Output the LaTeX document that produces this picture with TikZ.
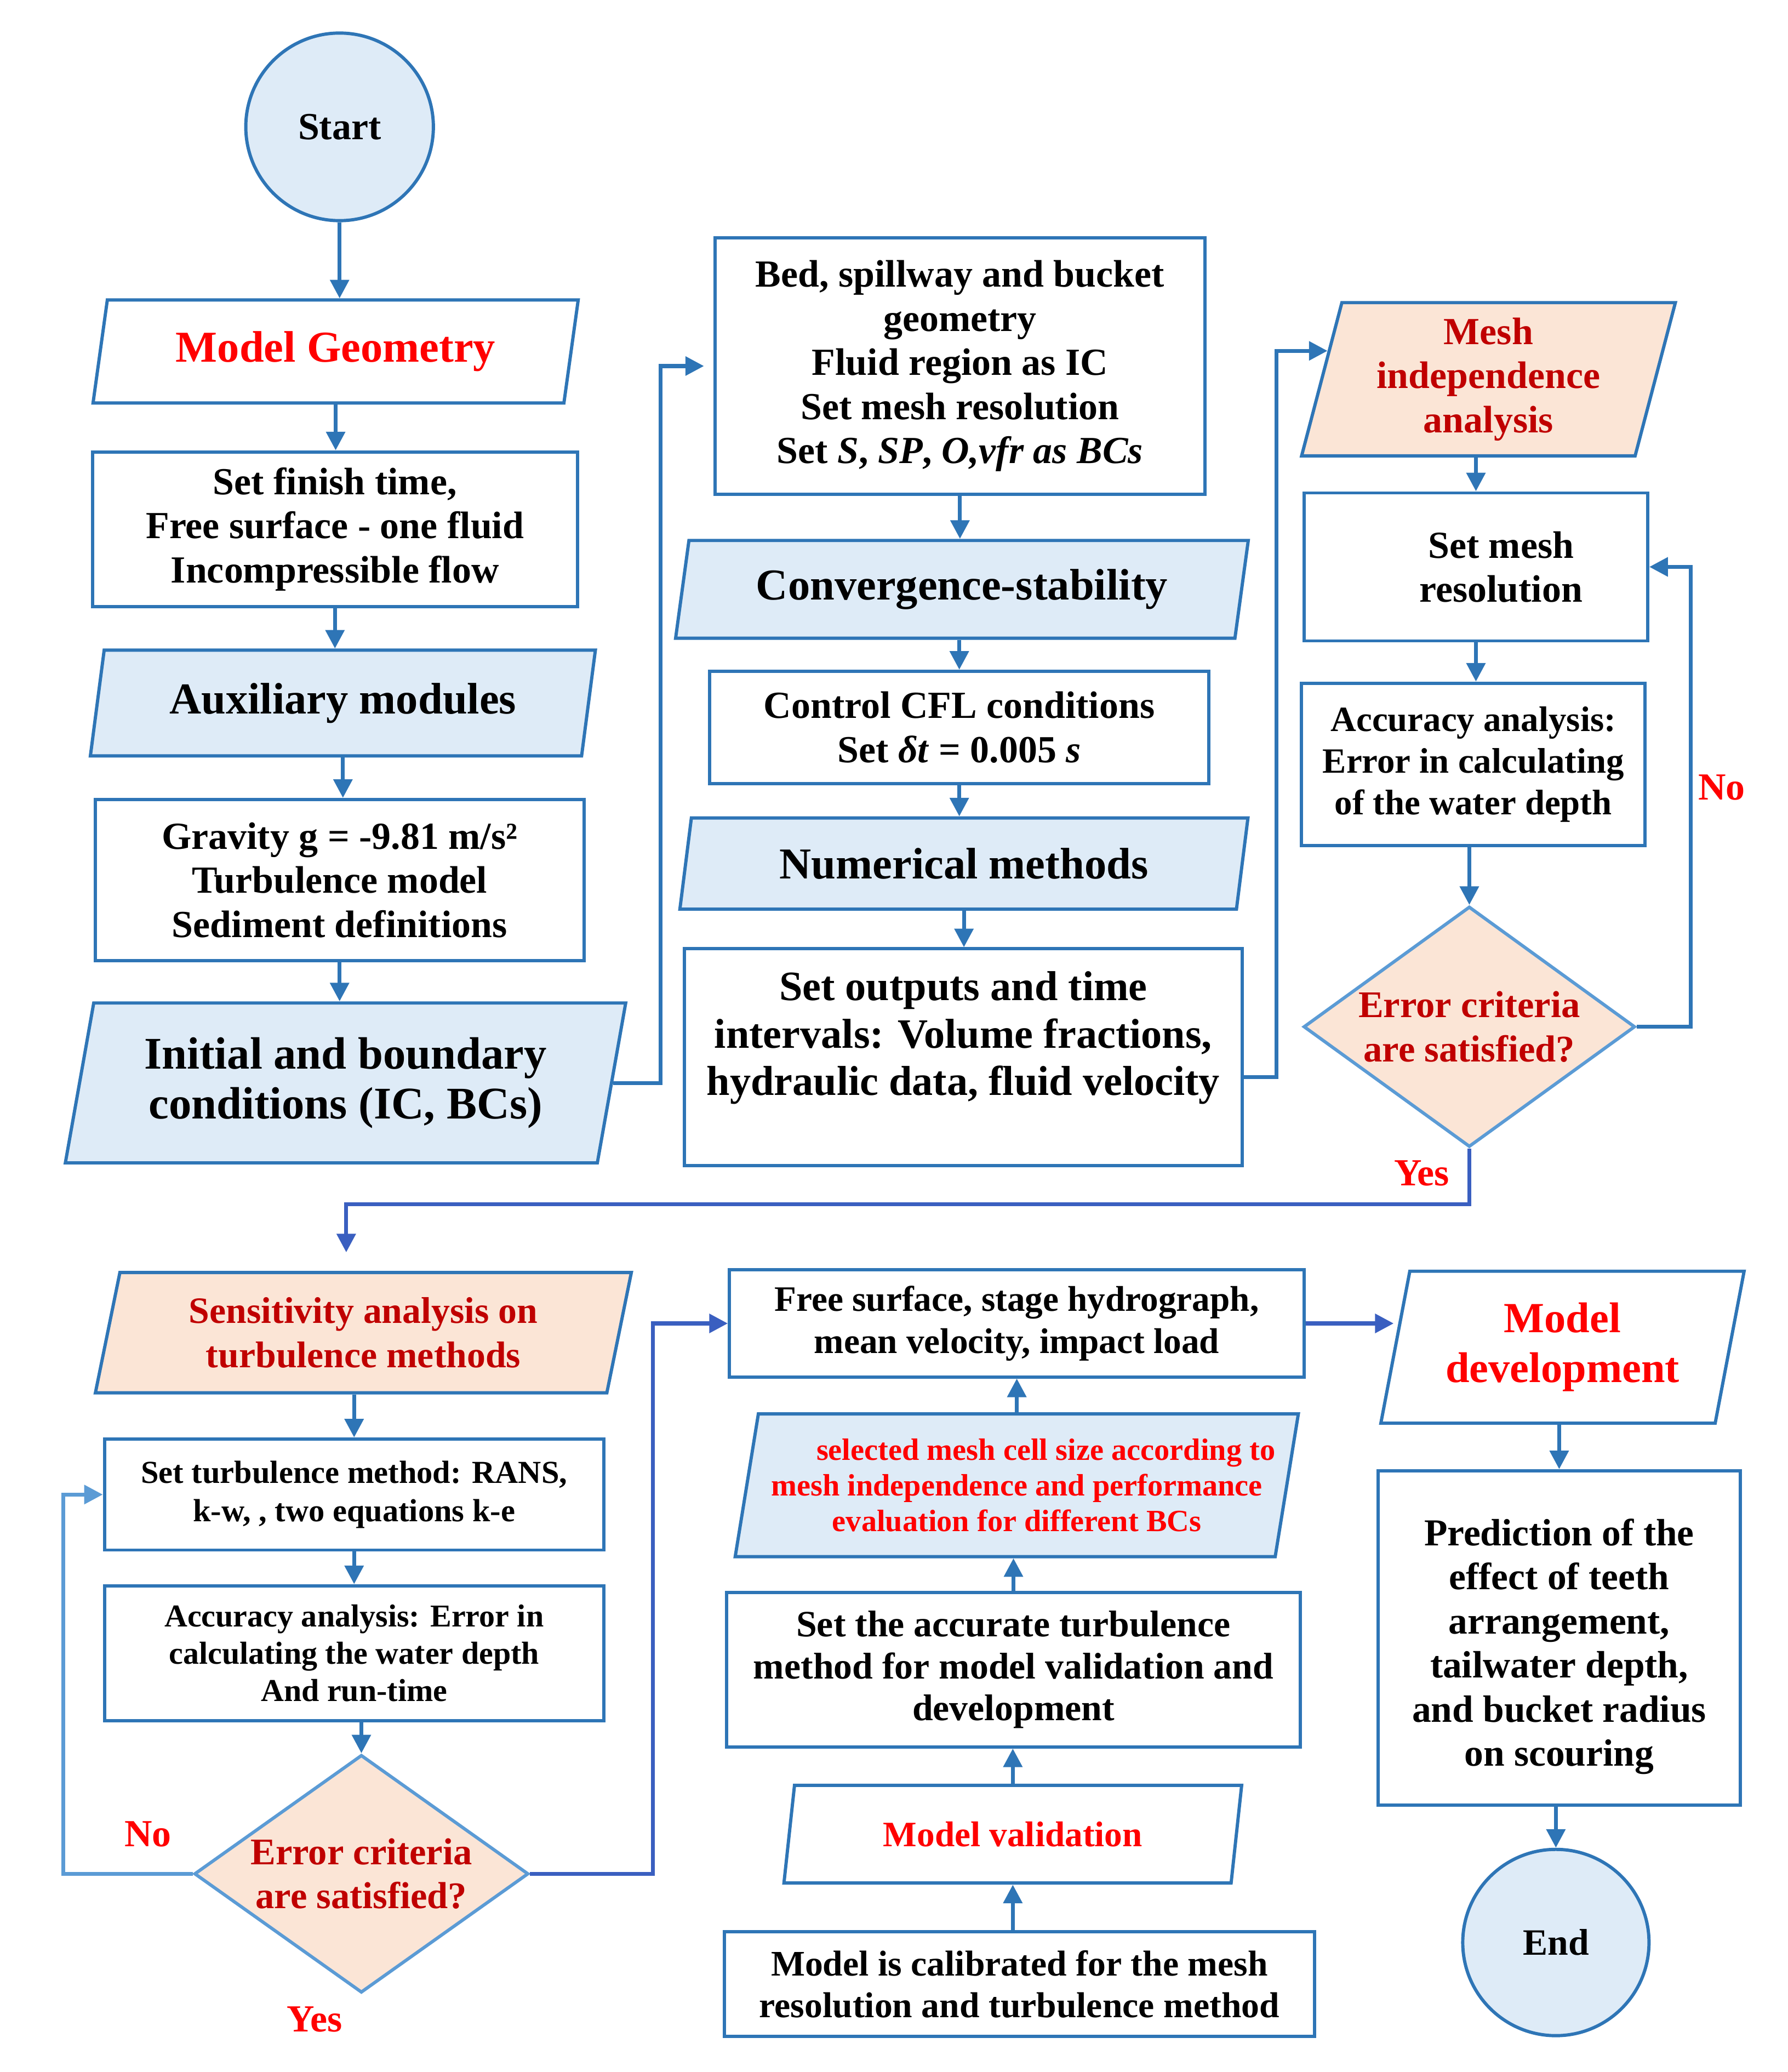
\documentclass[tikz,border=0pt]{standalone}
\usepackage{fontspec}
\setmainfont{Liberation Serif}
\usetikzlibrary{shapes.geometric,arrows.meta}

\definecolor{edgeblue}{HTML}{2E75B6}
\definecolor{lightedge}{HTML}{5B9BD5}
\definecolor{yesblue}{HTML}{3A5FC0}
\definecolor{paleblue}{HTML}{DEEBF7}
\definecolor{peach}{HTML}{FBE5D6}
\definecolor{brightred}{HTML}{FF0000}
\definecolor{darkred}{HTML}{C00000}

\newcommand{\fsz}[2]{\fontsize{#1}{#2}\selectfont\bfseries}

\begin{document}
\begin{tikzpicture}
  [
    x                 = 0.02cm,
    y                 = -0.02cm,
    every node/.style = {align=center, inner sep=0pt, font=\bfseries},
    base/.style       = {draw=edgeblue, line width=1.4pt, fill=white},
    box/.style        = {base, rectangle},
    para/.style       = {base, trapezium, trapezium left angle=76,
                         trapezium right angle=104, trapezium stretches=true},
    bluepara/.style   = {para, fill=paleblue},
    peachpara/.style  = {para, fill=peach, text=darkred},
    ends/.style       = {base, circle, fill=paleblue},
    decision/.style   = {base, draw=lightedge, diamond, fill=peach, text=darkred,
                         shape aspect=1.38, font=\fsz{16.2}{19}},
    flow/.style       = {draw=edgeblue, line width=1.7pt, -{Triangle[length=8pt,width=8pt]}},
    answer/.style     = {text=brightred, font=\fsz{16.5}{19}}
  ]
  \useasboundingbox (0,0) rectangle (1353,1568);

  \node[ends, minimum size=2.84cm, font=\fsz{16.5}{19}] (start) at (257,96) {Start};
  \node[para, minimum width=7.36cm, minimum height=1.56cm, text=brightred, font=\fsz{19}{22}]
    (geom) at (254,266) {Model Geometry};
  \node[box, minimum width=7.34cm, minimum height=2.34cm, font=\fsz{16.5}{19}]
    (setup) at (253.5,400.5) {Set finish time,\\Free surface - one fluid\\Incompressible flow};
  \node[bluepara, minimum width=7.66cm, minimum height=1.6cm, font=\fsz{19}{22}]
    (aux) at (259.5,532) {Auxiliary modules};
  \node[box, minimum width=7.4cm, minimum height=2.44cm, font=\fsz{16.5}{19}]
    (gravity) at (257,666) {Gravity g = -9.81 m/s²\\Turbulence model\\Sediment definitions};
  \node[bluepara, minimum width=8.5cm, minimum height=2.42cm, font=\fsz{19.5}{21.5}]
    (icbc) at (261.5,819.5) {Initial and boundary\\conditions (IC, BCs)};

  \node[box, minimum width=7.42cm, minimum height=3.88cm, font=\fsz{16.5}{19}]
    (bed) at (726.5,277) {Bed, spillway and bucket\\geometry\\Fluid region as IC\\Set mesh resolution\\
    Set \textit{S}, \textit{SP}, \textit{O,vfr as BCs}};
  \node[bluepara, minimum width=8.68cm, minimum height=1.48cm, font=\fsz{19}{22}]
    (conv) at (728,446) {Convergence-stability};
  \node[box, minimum width=7.56cm, minimum height=1.7cm, font=\fsz{16.5}{19}]
    (cfl) at (726,550.5) {Control CFL conditions\\Set \textit{δt} = 0.005 \textit{s}};
  \node[bluepara, minimum width=8.62cm, minimum height=1.38cm, font=\fsz{19}{22}]
    (nummeth) at (729.5,653.5) {Numerical methods};
  \node[box, minimum width=8.44cm, minimum height=3.28cm, font=\fsz{18}{20.4}]
    (outputs) at (729,800) {Set outputs and time\\intervals: Volume fractions,\\hydraulic data, fluid velocity\\~};

  \node[peachpara, minimum width=5.66cm, minimum height=2.32cm, font=\fsz{16.5}{19}]
    (mesh) at (1126.5,287) {Mesh\\independence\\analysis};
  \node[box, minimum width=5.2cm, minimum height=2.24cm, font=\fsz{16.5}{19}]
    (setmesh) at (1117,429) {\hspace*{0.76cm}Set mesh\\\hspace*{0.76cm}resolution};
  \node[box, minimum width=5.2cm, minimum height=2.46cm, font=\fsz{15.3}{18}]
    (acc1) at (1115,578.5) {Accuracy analysis:\\Error in calculating\\of the water depth};
  \node[decision, minimum width=5.02cm, minimum height=3.64cm]
    (crit1) at (1112,777) {Error criteria\\are satisfied?};

  \node[peachpara, minimum width=8.12cm, minimum height=1.82cm, font=\fsz{16}{19}]
    (sens) at (275,1008.5) {Sensitivity analysis on\\turbulence methods};
  \node[box, minimum width=7.56cm, minimum height=1.68cm, font=\fsz{13.8}{16.4}]
    (turb) at (268,1131) {Set turbulence method: RANS,\\k-w, , two equations k-e};
  \node[box, minimum width=7.56cm, minimum height=2.04cm, font=\fsz{13.7}{16}]
    (acc2) at (268,1251) {Accuracy analysis: Error in\\calculating the water depth\\And run-time};
  \node[decision, minimum width=5.06cm, minimum height=3.6cm]
    (crit2) at (273.5,1418) {Error criteria\\are satisfied?};

  \node[box, minimum width=8.7cm, minimum height=1.62cm, font=\fsz{15.4}{18}]
    (surf) at (769.5,1001.5) {Free surface, stage hydrograph,\\mean velocity, impact load};
  \node[bluepara, minimum width=8.34cm, minimum height=2.16cm, text=brightred, font=\fsz{13.3}{15.3}]
    (sel) at (769.5,1124) {\hspace*{0.88cm}selected mesh cell size according to\\
    mesh independence and performance\\evaluation for different BCs};
  \node[box, minimum width=8.68cm, minimum height=2.34cm, font=\fsz{16}{18}]
    (acc3) at (767,1263.5) {Set the accurate turbulence\\method for model validation and\\development};
  \node[para, minimum width=6.94cm, minimum height=1.48cm, text=brightred, font=\fsz{15.4}{18}]
    (valid) at (766.5,1388) {Model validation};
  \node[box, minimum width=8.94cm, minimum height=1.58cm, font=\fsz{15.5}{18}]
    (calib) at (771.5,1501.5) {Model is calibrated for the mesh\\resolution and turbulence method};

  \node[para, minimum width=5.5cm, minimum height=2.3cm, text=brightred, font=\fsz{18.5}{21.5}]
    (dev) at (1182.5,1019.5) {Model\\development};
  \node[box, minimum width=5.48cm, minimum height=5.06cm, font=\fsz{16.4}{19}]
    (pred) at (1180,1239.5) {~\\Prediction of the\\effect of teeth\\arrangement,\\tailwater depth,\\
    and bucket radius\\on scouring};
  \node[ends, minimum size=2.82cm, font=\fsz{16}{19}] (stop) at (1177.5,1470) {End};

  \node[answer] (no1) at (1303,596) {No};
  \node[answer] (yes1) at (1076,888) {Yes};
  \node[answer] (no2) at (112,1388) {No};
  \node[answer] (yes2) at (238,1528) {Yes};

  \draw[flow] (start) -- (start |- geom.north);
  \draw[flow] (geom.south) -- (geom.south |- setup.north);
  \draw[flow] (setup.south) -- (setup.south |- aux.north);
  \draw[flow] (aux.south) -- (aux.south |- gravity.north);
  \draw[flow] (gravity.south) -- (gravity.south |- icbc.north);
  \draw[flow, shorten >=4pt] (icbc.east) -- ++(36,0) |- (bed.west);

  \draw[flow] (bed.south) -- (bed.south |- conv.north);
  \draw[flow] (cfl.north |- conv.south) -- (cfl.north);
  \draw[flow] (cfl.south) -- (cfl.south |- nummeth.north);
  \draw[flow] (nummeth.south) -- (nummeth.south |- outputs.north);
  \draw[flow] ([yshift=-0.3cm]outputs.east) -- ++(25,0) |- (mesh.170);

  \draw[flow] (setmesh.north |- mesh.south) -- (setmesh.north);
  \draw[flow] (setmesh.south) -- (setmesh.south |- acc1.north);
  \draw[flow] (crit1.north |- acc1.south) -- (crit1.north);
  \draw[flow] (crit1.east) -- ++(41,0) |- (setmesh.east);
  \draw[flow, draw=yesblue, shorten >=8pt] (crit1.south) -- ++(0,42) -| ([xshift=-0.26cm]sens.north);

  \draw[flow] (turb.north |- sens.south) -- (turb.north);
  \draw[flow] (turb.south) -- (acc2.north);
  \draw[flow] (crit2.north |- acc2.south) -- (crit2.north);
  \draw[flow, draw=lightedge] (crit2.west) -- ++(-98,0) |- (turb.west);
  \draw[flow, draw=yesblue] (crit2.east) -- ++(93,0) |- (surf.west);

  \draw[flow] (valid.south |- calib.north) -- (valid.south);
  \draw[flow] (valid.north) -- (valid.north |- acc3.south);
  \draw[flow] (acc3.north) -- (acc3.north |- sel.south);
  \draw[flow] (sel.north) -- (sel.north |- surf.south);
  \draw[flow, draw=yesblue] (surf.east) -- (surf.east -| dev.west);

  \draw[flow] (pred.north |- dev.south) -- (pred.north);
  \draw[flow] (stop.north |- pred.south) -- (stop.north);
\end{tikzpicture}
\end{document}
